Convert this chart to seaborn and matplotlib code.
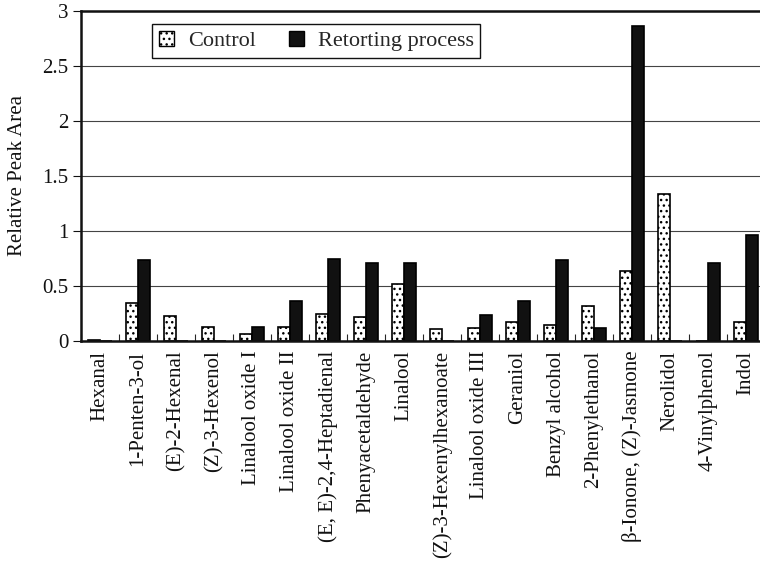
import numpy as np
import pandas as pd
import seaborn as sns
import matplotlib.pyplot as plt
from matplotlib.patches import Patch

sns.set_theme(style="white")
plt.rcParams['font.family'] = ['Liberation Serif', 'DejaVu Serif']
plt.rcParams['hatch.linewidth'] = 1.0

compounds = ["Hexanal", "1-Penten-3-ol", "(E)-2-Hexenal", "(Z)-3-Hexenol",
             "Linalool oxide I", "Linalool oxide II", "(E, E)-2,4-Heptadienal",
             "Phenyacetaldehyde", "Linalool", "(Z)-3-Hexenylhexanoate",
             "Linalool oxide III", "Geraniol", "Benzyl alcohol", "2-Phenylethanol",
             "β-Ionone, (Z)-Jasmone", "Nerolidol", "4-Vinylphenol", "Indol"]
control = [0.01, 0.345, 0.23, 0.13, 0.06, 0.13, 0.25, 0.22, 0.52, 0.11,
           0.12, 0.17, 0.15, 0.32, 0.64, 1.34, 0.0, 0.17]
retorting = [0.0, 0.74, 0.0, 0.0, 0.13, 0.36, 0.75, 0.71, 0.71, 0.0,
             0.24, 0.36, 0.74, 0.12, 2.86, 0.0, 0.71, 0.96]
groups = ["Control", "Retorting process"]

df = pd.DataFrame({
    "compound": compounds * 2,
    "value": control + retorting,
    "treatment": [groups[0]] * len(compounds) + [groups[1]] * len(compounds),
})

fs = 15

fig = plt.figure(figsize=(7.6, 5.67), dpi=100)
ax = fig.add_axes([81 / 760, 1 - 341 / 567, 684 / 760, 330 / 567])

sns.barplot(data=df, x="compound", y="value", hue="treatment", order=compounds,
            hue_order=groups, palette={"Control": "white", "Retorting process": "#111111"},
            edgecolor="black", linewidth=1.2, width=0.62, ax=ax, legend=False)

# dotted fill for control bars
for bar in ax.containers[0]:
    bar.set_hatch("...")

ax.set_xlim(-0.5, len(compounds) - 0.5)
ax.set_ylim(0, 3)
ax.set_yticks([0, 0.5, 1, 1.5, 2, 2.5, 3])
ax.set_yticklabels(["0", "0.5", "1", "1.5", "2", "2.5", "3"])
ax.yaxis.grid(True, color="#444444", linewidth=0.8)
ax.set_axisbelow(True)

ax.set_xticks(range(len(compounds)))
ax.set_xticklabels(compounds, rotation=90)
ax.set_xticks(np.arange(-0.5, len(compounds), 1), minor=True)
ax.tick_params(axis="x", which="major", length=0, pad=7, labelsize=fs, colors="#111111")
ax.tick_params(axis="x", which="minor", direction="in", length=5, width=0.8, bottom=True)
ax.tick_params(axis="y", which="major", direction="out", length=6, width=0.8, left=True,
               labelsize=fs, colors="#111111", pad=3)

ax.set_xlabel("")
ax.set_ylabel("Relative Peak Area", fontsize=fs, color="#111111", labelpad=11)

for side in ["left", "bottom", "top"]:
    ax.spines[side].set_linewidth(1.8)
    ax.spines[side].set_color("#111111")
ax.spines["right"].set_visible(False)

handles = [Patch(facecolor="white", edgecolor="black", hatch="...", label=groups[0]),
           Patch(facecolor="#111111", edgecolor="black", label=groups[1])]
ax.legend(handles=handles, ncol=2, loc="upper left", bbox_to_anchor=(0.104, 0.961),
          borderaxespad=0, fancybox=False, framealpha=1, edgecolor="#111111",
          fontsize=16, handlelength=0.7, handleheight=0.7, columnspacing=1.5,
          handletextpad=0.6, borderpad=0.3)

fig.savefig("out.png", dpi=100)
